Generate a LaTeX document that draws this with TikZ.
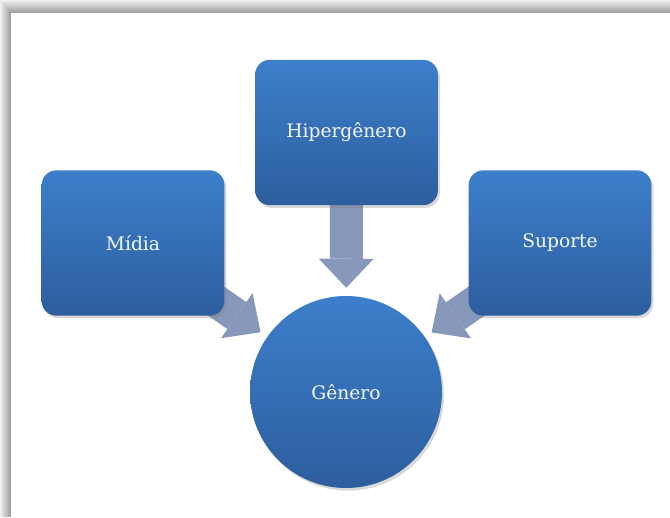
\documentclass[tikz,border=0pt]{standalone}
\usepackage{fontspec}
\setmainfont{DejaVu Serif}
\usetikzlibrary{arrows.meta,shadows,backgrounds}
\definecolor{caixaclara}{RGB}{60,127,203}
\definecolor{caixaescura}{RGB}{45,94,158}
\definecolor{seta}{RGB}{136,152,186}
\begin{document}
\begin{tikzpicture}[x=0.75pt, y=-0.75pt,
    caixa/.style={rectangle, rounded corners=11pt, minimum width=137pt, minimum height=109pt,
      top color=caixaclara, bottom color=caixaescura, text=white!94!caixaclara,
      font=\fontsize{14}{16}\selectfont,
      drop shadow={shadow xshift=1.5pt, shadow yshift=-2pt, opacity=.3}},
    circulo/.style={caixa, circle, sharp corners, minimum size=144pt},
    setagrossa/.style={seta, line width=24.75pt, shorten >=6pt,
      -{Triangle[length=21.75pt, width=41.25pt, line width=0pt]}}]
    \useasboundingbox (0,0) rectangle (670,517);
    % Caixas
    \node[caixa] (hiper) at (346.5,132.5) {Hipergênero};
    \node[caixa] (midia) at (133,243) {Mídia};
    \node[caixa] (suporte) at (560,243) {Suporte};
    % Círculo
    \node[circulo] (genero) at (346,392) {Gênero};
    \begin{scope}[on background layer]
      % Moldura
      \foreach \i [evaluate=\i as \tom using 6+2.6*\i] in {0,...,12}
        \fill[black!\tom] (\i*11/13,\i) rectangle (670,517);
      \fill[white] (11,13) rectangle (670,517);
      % Setas
      \draw[setagrossa] (hiper.center) -- (genero);
      \draw[setagrossa] (midia.center) -- (genero);
      \draw[setagrossa] (suporte.center) -- (genero);
    \end{scope}
\end{tikzpicture}
\end{document}
